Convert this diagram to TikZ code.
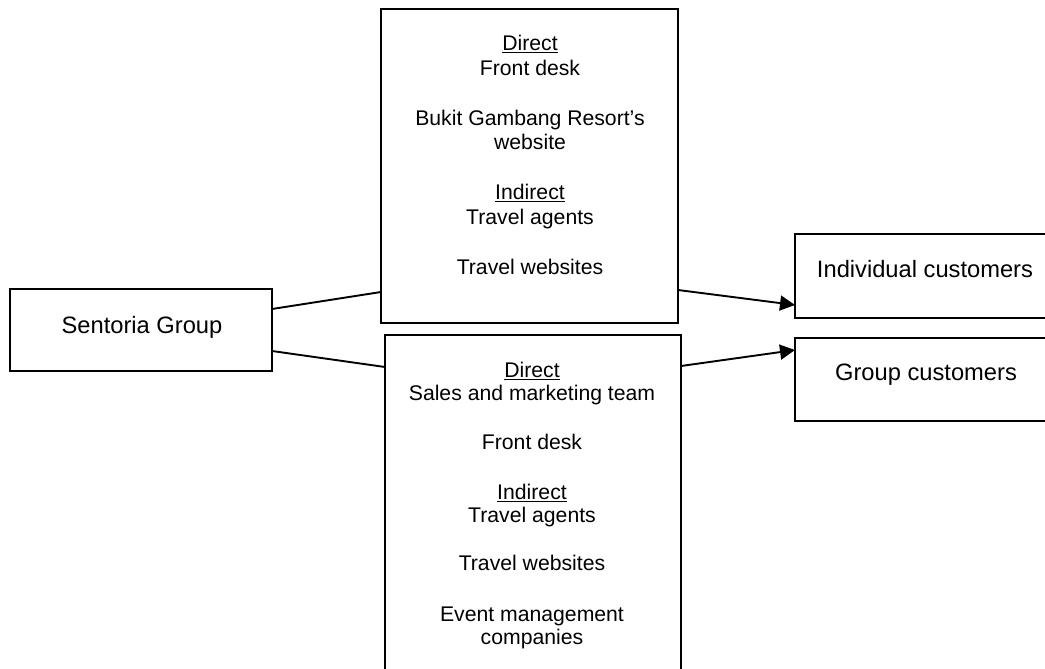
\documentclass[tikz,border=0pt]{standalone}
\usepackage{fontspec}
\setmainfont{Liberation Sans}
\usetikzlibrary{arrows.meta}
\begin{document}
\begin{tikzpicture}[x=1pt,y=-1pt,
  frame/.style={draw=black, line width=1.9pt, inner sep=0pt, outer sep=0pt, anchor=north west},
  big/.style={font=\fontsize{23.7}{28}\selectfont, inner sep=0pt, text height=17pt, text depth=0pt},
  ln/.style={font=\fontsize{21.2}{25}\selectfont, inner sep=0pt, text height=15.2pt, text depth=0pt},
  link/.style={line width=1.9pt},
  flow/.style={line width=1.9pt, -{Triangle[length=15pt,width=15pt]}}]
\useasboundingbox (0,0) rectangle (1045,669);
\clip (0,0) rectangle (1045,669);

% boxes
\node[frame, minimum width=262pt, minimum height=82pt] (sent) at (10,289) {};
\node[frame, minimum width=297pt, minimum height=314pt] (upper) at (381,9) {};
\node[frame, minimum width=296pt, minimum height=345pt] (lower) at (385,335) {};
\node[frame, minimum width=260pt, minimum height=84pt] (indiv) at (795,234) {};
\node[frame, minimum width=260pt, minimum height=83pt] (grp) at (795,338) {};

% box labels
\node[big] (sentT) at (142,325) {Sentoria Group};
\node[big] (indivT) at (925,269) {Individual customers};
\node[big] (grpT) at (926,372) {Group customers};

% channels for individual customers
\node[ln] (u1) at (530,43) {\underline{Direct}};
\node[ln] (u2) at (530,68) {Front desk};
\node[ln] (u3) at (530,118) {Bukit Gambang Resort’s};
\node[ln] (u4) at (530,142) {website};
\node[ln] (u5) at (530,192) {\underline{Indirect}};
\node[ln] (u6) at (530,217) {Travel agents};
\node[ln] (u7) at (530,267) {Travel websites};

% channels for group customers
\node[ln] (l1) at (532,370) {\underline{Direct}};
\node[ln] (l2) at (532,393) {Sales and marketing team};
\node[ln] (l3) at (532,442) {Front desk};
\node[ln] (l4) at (532,492) {\underline{Indirect}};
\node[ln] (l5) at (532,515) {Travel agents};
\node[ln] (l6) at (532,563) {Travel websites};
\node[ln] (l7) at (532,614) {Event management};
\node[ln] (l8) at (532,637) {companies};

% connectors
\draw[link] ([yshift=-20pt]sent.north east) -- ([yshift=31pt]upper.south west);
\draw[link] ([yshift=20pt]sent.south east) -- ([yshift=-32pt]lower.north west);
\draw[flow] ([yshift=33pt]upper.south east) -- ([yshift=13pt]indiv.south west);
\draw[flow] ([yshift=-31pt]lower.north east) -- ([yshift=-12pt]grp.north west);
\end{tikzpicture}
\end{document}
